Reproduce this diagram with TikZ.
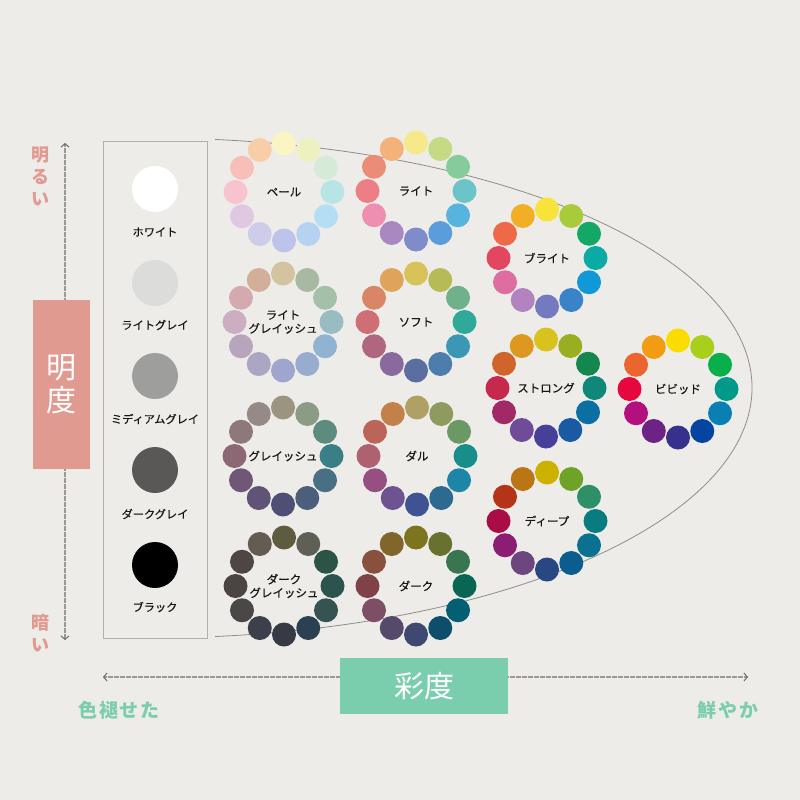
\documentclass[tikz,border=0pt]{standalone}
\usepackage{fontspec}
\setmainfont{Noto Sans CJK JP}
\newfontfamily\jplab[FakeBold=0.35]{Noto Sans CJK JP}
\usetikzlibrary{arrows.meta,calc}
\definecolor{bgcol}{HTML}{EDECE8}
\definecolor{pinkax}{HTML}{E09A90}
\definecolor{greenax}{HTML}{7BCEAD}
\definecolor{axisline}{HTML}{9A9995}
\definecolor{tipcol}{HTML}{66645F}
\definecolor{framecol}{HTML}{B2B0AB}
\definecolor{curvecol}{HTML}{8E8D89}
\definecolor{labcol}{HTML}{161616}
\tikzset{
  dot/.style={circle,draw=none,minimum size=24,inner sep=0pt},
  graydot/.style={circle,draw=none,minimum size=46,inner sep=0pt},
  ringlabel/.style={text=labcol,font=\jplab\fontsize{11.5}{13.5}\selectfont,align=center,inner sep=0pt},
  graylabel/.style={text=labcol,font=\jplab\fontsize{11.2}{13}\selectfont,inner sep=0pt},
  axisdots/.style={axisline,line width=1.3pt,dash pattern=on 0.7pt off 0.5pt},
  bigbox/.style={draw=none,inner sep=0pt,text=white,font=\fontsize{30}{33}\selectfont,align=center},
  sidepink/.style={text=pinkax,font=\bfseries\fontsize{18}{22}\selectfont,align=center,inner sep=0pt},
  sidegreen/.style={text=greenax,font=\bfseries\fontsize{19}{22}\selectfont\addfontfeatures{LetterSpace=10},inner sep=0pt},
}
\newcommand\colring[4]{%
  \node[ringlabel] (#1) at (#2) {#3};
  \foreach \cc [count=\kk from 0] in {#4} {%
    \definecolor{tmpc}{HTML}{\cc}%
    \node[dot,fill=tmpc] (#1-\kk) at ($(#2)+({-90+30*\kk}:48.5)$) {};
  }%
}
\begin{document}
\begin{tikzpicture}[x=1pt,y=-1pt]
\fill[bgcol] (0,0) rectangle (800,800);
% curve (half ellipse)
\draw[curvecol,line width=0.8pt] (150,388) ++(-83.8:602 and 250) arc[start angle=-83.8,end angle=83.8,x radius=602,y radius=250];
% vertical axis
\coordinate (vtop) at (65,143);
\coordinate (vbot) at (65,640);
\draw[axisdots,{Straight Barb[length=3.5pt,width=8pt,line width=0.9pt,color=tipcol]}-{Straight Barb[length=3.5pt,width=8pt,line width=0.9pt,color=tipcol]}] (vtop) -- (vbot);
\node[bigbox,fill=pinkax,minimum width=57,minimum height=169] (bright) at (61.5,384.5) {明\\度};
\node[sidepink] (light) at (40,176) {明\\る\\い};
\node[sidepink] (dark) at (40,633) {暗\\い};
% horizontal axis
\coordinate (hleft) at (103,677);
\coordinate (hright) at (748,677);
\draw[axisdots,{Straight Barb[length=3.5pt,width=8pt,line width=0.9pt,color=tipcol]}-{Straight Barb[length=3.5pt,width=8pt,line width=0.9pt,color=tipcol]}] (hleft) -- (hright);
\node[bigbox,fill=greenax,minimum width=168,minimum height=56] (chroma) at (424,686) {彩度};
\node[sidegreen] (dull) at (119,710) {色褪せた};
\node[sidegreen] (vivid) at (728,710) {鮮やか};
% gray column
\node[draw=framecol,line width=0.8pt,minimum width=104,minimum height=497,inner sep=0pt] (grayframe) at (155,389.5) {};
\node[graydot,fill=white] (g1) at (155,189) {};
\node[graylabel] (g1l) at (155,232) {ホワイト};
\node[graydot,fill={rgb,255:red,220;green,221;blue,219}] (g2) at (155,283) {};
\node[graylabel] (g2l) at (155,325) {ライトグレイ};
\node[graydot,fill={rgb,255:red,158;green,159;blue,157}] (g3) at (155,376) {};
\node[graylabel] (g3l) at (155,419) {ミディアムグレイ};
\node[graydot,fill={rgb,255:red,89;green,88;blue,86}] (g4) at (155,470) {};
\node[graylabel] (g4l) at (155,514) {ダークグレイ};
\node[graydot,fill=black] (g5) at (155,565) {};
\node[graylabel] (g5l) at (155,607) {ブラック};
% rings
\colring{pale}{284,192}{ペール}{FAF5C2,EDF1C0,D5EBD8,B9E4E6,B3DEF4,B5D2F1,BEC3EC,CFCCEA,E0C7E2,F6C3CF,F7BFB8,F8CDA8}
\colring{lt}{416,191}{ライト}{F6E98A,C4DA84,86CC9A,6CC3C8,56B4DF,5B9DDB,7F8BCA,A988C2,EE8FB1,EE7E86,EB8C78,F2B27A}
\colring{ltg}{283,322}{ライト\\グレイッシュ}{D4C3A0,A7B9A0,A4C0A8,99BCC3,8FB3D0,98ACD0,A0A5CE,ABA6C4,B7A5BC,CDAEC0,D4AAB0,D3AE98}
\colring{soft}{416,322}{ソフト}{D8C25A,B7BB57,6FB18A,2EA99A,3A98B5,4C7DAB,5C6DA0,8A6A9E,B0667E,D06E76,DA8566,E0A35C}
\colring{gry}{283,456}{グレイッシュ}{9B9580,8A9C84,5D8C7F,3A7E86,496F84,4B5E7B,4D4F75,5F5376,715777,8C6874,8E7879,968A87}
\colring{dul}{417,456}{ダル}{AFA064,8E9A5E,6A9965,178E8A,1D86A6,2C6A92,3F5392,6D5392,974E81,AE6171,BB6559,C2804B}
\colring{dkg}{284,586}{ダーク\\グレイッシュ}{5E5B3E,5E5F55,2C5446,2D534F,365352,2B4151,363A45,3C3F4C,4C4747,4C4442,4E4642,635C52}
\colring{dk}{416,586}{ダーク}{7D7420,697130,3A7552,0A6654,035F71,0D4E6C,3F4870,55496C,7E4E67,804249,89503E,80662A}
\colring{brt}{547,258}{ブライト}{F8E33A,A8CB3B,13A866,0AAAA5,1198D6,3A83C8,7479C0,B383BF,DE6EA2,E3465F,EE6A46,F2AE25}
\colring{stg}{546,388}{ストロング}{D7C21E,9AAE22,14874F,0F8779,0A6FA3,185BA2,46409A,6F4C99,A12968,C7284D,D0652C,DE981F}
\colring{viv}{678,389}{ビビッド}{FBDC00,A8D01A,08AF4B,009A8A,0A7FB4,0545A0,35318D,6C2385,B30F7F,E8063F,EC6530,F19C12}
\colring{dep}{547,521}{ディープ}{CDB100,6DA326,2D9067,097C80,0A7190,0A5D8C,294783,6D457F,8B1D73,AA0C45,B53417,BA7514}
\end{tikzpicture}
\end{document}
